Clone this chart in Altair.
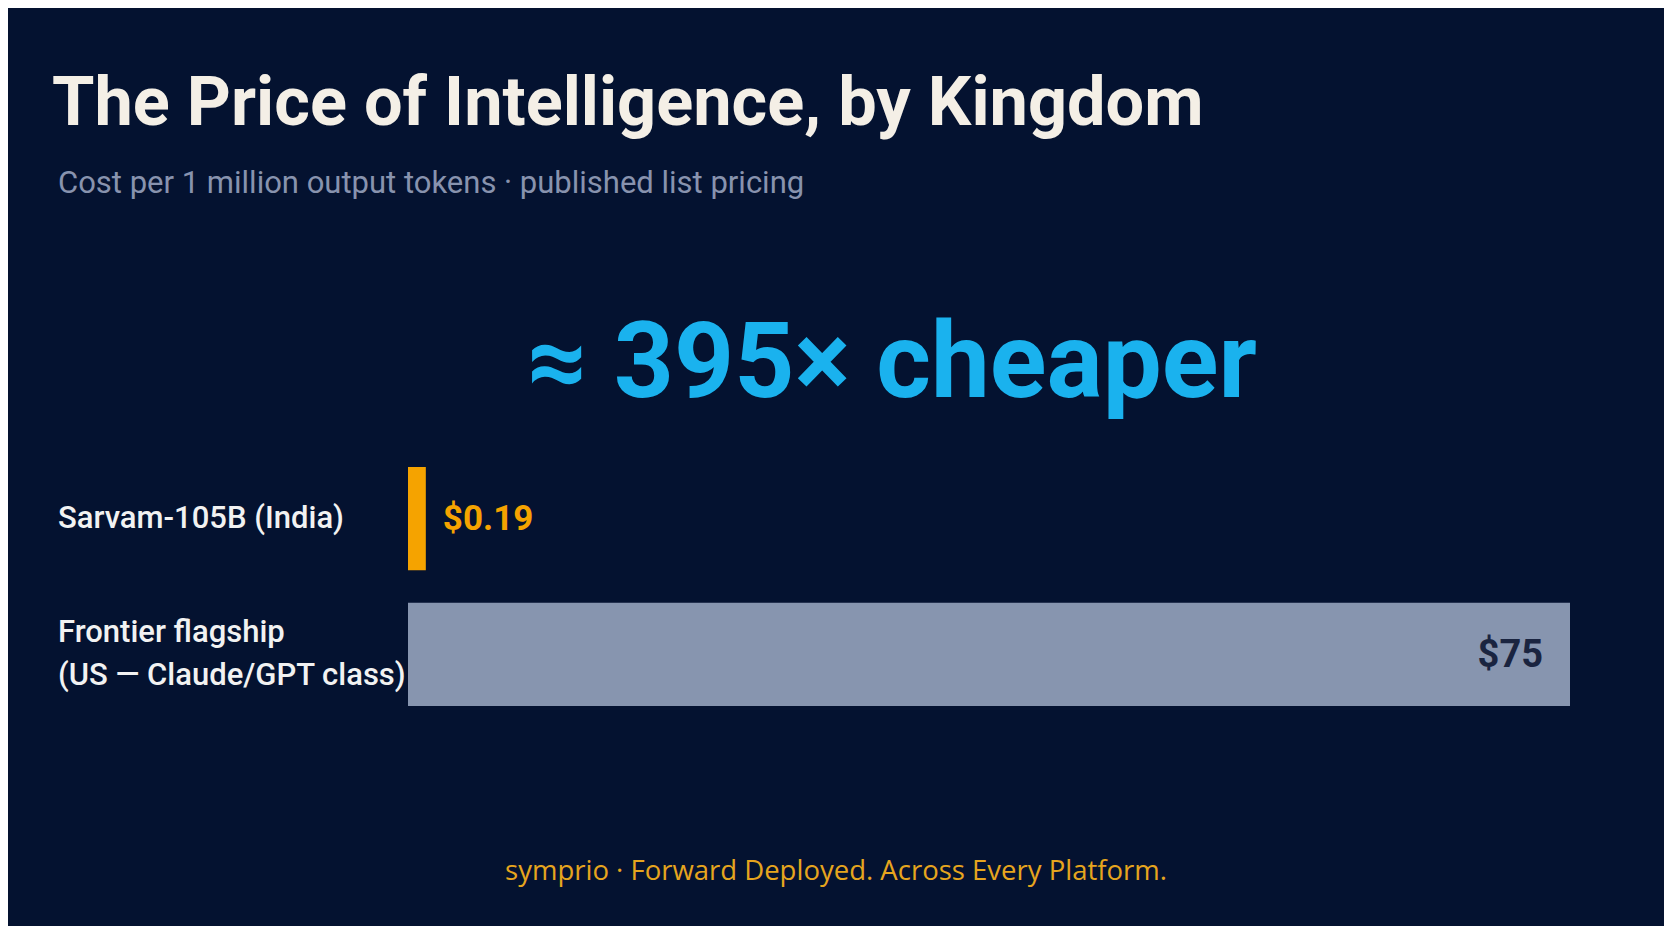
import altair as alt
import pandas as pd

# ---- data ----
models = ["Sarvam-105B (India)", "Frontier flagship\n(US — Claude/GPT class)"]
prices = [0.19, 75]
price_labels = ["$0.19", "$75"]
kinds = ["sarvam", "frontier"]
label_lines = [1, 2]

title_text = "The Price of Intelligence, by Kingdom"
subtitle_text = "Cost per 1 million output tokens · published list pricing"
headline_text = "≈ 395× cheaper"
footer_text = "symprio · Forward Deployed. Across Every Platform."

BG = "#041230"
ORANGE = "#F5A300"
GREY = "#8795AF"

df = pd.DataFrame({"model": models, "price": prices, "label": price_labels,
                   "kind": kinds, "lines": label_lines})

W, H = 1656, 918

x_scale = alt.Scale(domain=[0, 75], range=[400, 1562])
y_scale = alt.Scale(domain=models, range=[459, 698], paddingInner=0.24, paddingOuter=0)
Y = alt.Y("model:N", scale=y_scale, axis=None, sort=models)

base = alt.Chart(df).transform_calculate(
    shown="max(datum.price, 1.15)"  # minimum visible bar length
)

bars = base.transform_calculate(zero="0").mark_bar(cornerRadius=0).encode(
    x=alt.X("zero:Q", scale=x_scale, axis=None),
    x2=alt.X2("shown:Q"),
    y=Y,
    color=alt.Color("kind:N", scale=alt.Scale(domain=["sarvam", "frontier"], range=[ORANGE, GREY]), legend=None),
)

LH = 43
label_style = dict(align="left", baseline="middle", font="Roboto", fontSize=31, fontWeight=500,
                   color="#F2F2F2", lineBreak="\n", lineHeight=LH)

row_labels_1 = base.transform_filter("datum.lines == 1").mark_text(**label_style).encode(
    x=alt.value(50), y=Y, text="model:N",
)
row_labels_2 = base.transform_filter("datum.lines == 2").mark_text(dy=-LH / 2, **label_style).encode(
    x=alt.value(50), y=Y, text="model:N",
)

small_label = base.transform_filter("datum.kind == 'sarvam'").mark_text(
    align="left", baseline="middle", font="Roboto", fontSize=35, fontWeight="bold",
    color=ORANGE, dx=17,
).encode(
    x=alt.X("shown:Q", scale=x_scale, axis=None), y=Y, text="label:N",
)

big_label = base.transform_filter("datum.kind == 'frontier'").mark_text(
    align="right", baseline="middle", font="Roboto", fontSize=38, fontWeight="bold",
    color="#1A2440", dx=-27, dy=2,
).encode(
    x=alt.X("shown:Q", scale=x_scale, axis=None), y=Y, text="label:N",
)


def annotation(text, x, y, **kw):
    return alt.Chart(pd.DataFrame({"t": [text]})).mark_text(baseline="alphabetic", **kw).encode(
        x=alt.value(x), y=alt.value(y), text="t:N"
    )


title = annotation(title_text, 44, 117, align="left",
                   font="Roboto", fontSize=68.5, fontWeight="bold", color="#F4EFE6")
subtitle = annotation(subtitle_text, 50, 185, align="left",
                      font="Roboto", fontSize=31, color="#8893AE")
headline = annotation(headline_text, 519, 389, align="left",
                      font="Roboto", fontSize=105, fontWeight="bold", color="#1AB2EE")
footer = annotation(footer_text, 828, 872, align="center",
                    font="Open Sans", fontSize=27.5, color="#E6A51E")

chart = alt.layer(
    bars, row_labels_1, row_labels_2, small_label, big_label, title, subtitle, headline, footer
).properties(
    width=W, height=H, autosize="none", padding=0, background=BG
).configure_view(stroke=None)

chart.save("out.html", embed_options={"renderer": "svg", "actions": False})
